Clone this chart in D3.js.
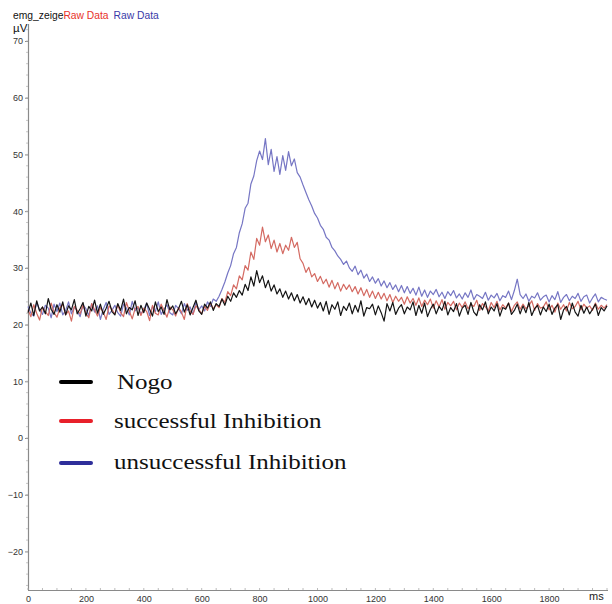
<!DOCTYPE html>
<html><head><meta charset="utf-8">
<script src="https://cdn.jsdelivr.net/npm/d3@7"></script>
<style>body{margin:0;background:#fff}svg{display:block}</style>
</head><body>
<svg id="c" width="612" height="604"></svg>
<script>
// time axis: 0..2000 ms in 10 ms steps
const timesMs = d3.range(0, 2001, 10);
const xTicks = [0,200,400,600,800,1000,1200,1400,1600,1800];
const yTicks = [-20,-10,0,10,20,30,40,50,60,70];
const seriesNames = ["Nogo","successful Inhibition","unsuccessful Inhibition"];

const nogo = [
22.1,23.8,21.6,24.2,22.4,23.1,21.9,24.6,22.7,21.8,
23.5,22.2,24.0,21.7,23.3,22.6,24.4,21.9,22.8,23.9,
21.5,23.2,22.4,24.3,22.0,23.6,21.8,22.9,24.1,22.3,
21.7,23.7,22.5,24.5,21.9,23.0,22.6,24.2,21.6,23.4,
22.1,23.8,22.7,21.5,24.0,22.3,23.1,21.8,24.4,22.6,
23.3,21.9,22.8,24.1,22.2,23.5,21.7,23.0,24.3,22.4,
21.8,23.6,22.9,24.0,22.5,23.7,
23.2,24.5,23.4,25.0,24.1,25.6,24.8,26.0,25.2,27.1,
26.0,28.4,26.8,29.5,27.4,28.6,26.5,27.8,25.9,27.0,
25.4,26.3,24.8,25.9,24.5,25.6,24.2,25.3,23.8,24.9,
23.5,24.6,23.1,24.3,22.9,
23.9,22.4,24.1,21.8,23.5,22.7,24.0,21.6,23.2,22.5,
23.8,21.9,23.4,22.2,24.2,21.5,23.0,22.8,23.6,21.7,
23.3,22.1,20.6,23.7,22.4,23.9,21.8,22.9,23.5,21.9,
23.1,22.6,24.0,21.6,23.4,22.0,23.8,21.4,22.7,23.6,
21.9,23.2,22.5,24.1,21.7,23.0,22.3,23.7,21.5,22.9,
23.4,21.8,23.9,22.2,21.6,23.5,22.6,24.0,21.9,23.1,
22.4,23.7,21.5,23.0,22.7,23.8,21.8,22.5,23.6,21.9,
23.3,22.1,23.9,21.6,22.8,23.4,21.7,23.1,22.3,23.6,
21.8,22.9,23.5,20.9,22.6,23.2,21.7,23.8,22.2,21.5,
23.4,22.0,23.1,21.9,22.7,23.6,21.6,23.0,22.4,23.3
];
const successful = [
22.6,21.4,23.5,22.0,20.8,23.1,22.3,21.6,23.8,22.1,
21.3,22.9,23.6,21.7,22.4,20.6,23.2,22.5,21.9,23.4,
22.0,21.2,23.7,22.6,21.5,23.0,22.2,20.9,23.3,22.7,
21.8,23.5,22.1,21.4,23.9,22.4,21.0,22.8,23.2,21.6,
22.9,22.3,20.7,23.4,22.0,21.7,23.6,22.5,21.3,23.1,
22.6,21.5,23.0,22.2,20.9,23.7,22.4,21.8,23.3,22.7,
21.9,23.2,22.5,23.8,22.8,23.5,
23.0,24.6,23.9,25.8,25.1,27.0,26.3,28.6,27.9,30.4,
29.6,32.8,31.5,35.2,34.0,37.2,34.6,35.8,33.4,34.9,
32.8,34.3,32.5,34.0,33.1,35.4,33.6,34.5,31.6,30.8,
29.2,30.1,28.4,29.0,27.6,
28.5,27.2,28.0,26.6,27.8,26.3,27.4,25.9,27.1,26.2,
27.0,25.8,26.7,25.4,26.5,25.1,26.2,24.8,25.9,24.6,
25.7,24.5,25.5,24.2,25.3,23.9,25.0,24.1,24.8,23.6,
24.9,23.8,24.6,23.4,24.7,23.2,24.3,23.5,24.5,22.9,
24.2,23.1,24.4,22.7,23.9,23.3,24.1,22.6,23.8,23.0,
24.0,22.8,23.6,23.2,24.3,22.5,23.7,23.1,22.4,23.9,
23.0,24.1,22.6,23.5,22.9,23.8,22.3,23.4,24.0,22.7,
23.6,22.8,23.3,24.2,22.5,23.7,22.9,23.1,24.0,22.6,
23.4,22.2,23.8,22.7,23.5,22.4,23.9,22.8,23.2,24.1,
22.6,23.6,22.9,23.3,22.5,23.8,22.7,23.4,22.9,23.5
];
const unsuccessful = [
23.2,22.0,21.5,23.9,22.6,21.8,23.4,22.9,21.2,23.6,
22.3,23.8,21.7,22.5,24.0,21.9,23.1,22.4,21.4,23.5,
22.8,21.6,23.7,22.2,23.3,20.9,22.7,23.9,21.8,22.5,
23.4,22.1,21.5,23.6,22.9,21.7,24.1,22.4,23.0,21.9,
22.6,23.8,21.6,23.2,22.3,24.0,21.8,22.7,23.5,22.1,
21.7,23.4,22.8,21.9,23.7,22.5,23.1,21.8,23.9,22.6,
23.3,22.4,24.0,23.2,24.5,24.1,
25.0,26.2,27.5,29.1,30.4,32.5,33.6,36.2,37.8,40.5,
41.4,44.8,46.2,48.9,50.6,49.1,52.8,48.2,50.9,47.0,
49.6,46.5,49.8,47.2,50.5,48.0,49.2,46.8,46.0,44.6,
43.3,42.0,40.9,39.6,38.8,
37.5,36.8,35.4,34.9,33.6,33.0,32.1,31.5,30.6,31.2,
30.0,29.4,30.3,28.8,29.6,28.2,28.9,27.6,28.4,27.3,
28.1,26.8,27.7,26.5,27.4,26.2,27.0,25.8,26.9,25.6,
26.7,25.5,26.4,25.2,26.6,25.0,26.1,24.8,25.9,25.3,
26.2,24.9,25.7,24.6,25.8,25.1,26.0,24.7,25.4,24.5,
25.6,24.8,26.1,24.4,25.3,25.0,24.6,25.7,24.3,25.2,
24.7,25.5,24.2,25.1,24.8,25.9,24.4,26.0,28.0,25.3,
24.6,25.4,24.1,25.0,24.7,25.6,24.3,24.9,25.2,24.0,
25.1,24.4,25.8,23.9,24.8,25.3,24.2,25.0,24.6,25.5,
24.1,24.9,25.2,23.8,24.7,25.4,24.0,24.8,24.5,24.3
];

const svg = d3.select("#c");
const x = d3.scaleLinear().domain([0,2000]).range([28,607]);
const y = d3.scaleLinear().domain([-26.8,73]).range([590,24]);
const axisColor = "#8a8a8a";
const sans = "Arial, Liberation Sans, sans-serif";

// header
const hdr = svg.append("text").attr("x",13).attr("y",19)
  .attr("font-family",sans).attr("font-size",10.3);
hdr.append("tspan").attr("fill","#111").text("emg_zeige");
hdr.append("tspan").attr("fill","#e8322a").text("Raw Data");
hdr.append("tspan").attr("fill","#3a3aa8").attr("dx",5).text("Raw Data");
svg.append("text").attr("x",13).attr("y",32).attr("font-family",sans)
  .attr("font-size",11.5).attr("fill","#111").text("µV");

// y axis
const yAxis = d3.axisLeft(y).tickValues(yTicks).tickSize(3).tickPadding(2).tickFormat(d3.format("d"));
const gy = svg.append("g").attr("transform","translate(28,0)").call(yAxis);
gy.select(".domain").remove();
gy.selectAll(".tick line").attr("stroke",axisColor);
gy.selectAll(".tick text").attr("font-family",sans).attr("font-size",9).attr("fill","#333");
const yMinor = d3.range(-26,73,2);
svg.append("g").selectAll("line").data(yMinor).join("line")
  .attr("x1",26).attr("x2",28).attr("y1",d=>y(d)).attr("y2",d=>y(d)).attr("stroke","#bbb").attr("stroke-width",0.8);
svg.append("line").attr("x1",28.5).attr("x2",28.5).attr("y1",24).attr("y2",590).attr("stroke",axisColor).attr("stroke-width",1.2);

// x axis
const xAxis = d3.axisBottom(x).tickValues(xTicks).tickSize(0).tickPadding(6).tickFormat(d3.format("d"));
const gx = svg.append("g").attr("transform","translate(0,590)").call(xAxis);
gx.select(".domain").remove();
gx.selectAll(".tick text").attr("font-family",sans).attr("font-size",9).attr("fill","#333");
const xMinor = d3.range(0,2001,50);
svg.append("g").selectAll("line").data(xMinor).join("line")
  .attr("x1",d=>x(d)).attr("x2",d=>x(d)).attr("y1",588).attr("y2",590).attr("stroke","#aaa").attr("stroke-width",0.8);
svg.append("line").attr("x1",28).attr("x2",608).attr("y1",590.5).attr("y2",590.5).attr("stroke",axisColor).attr("stroke-width",1.2);
svg.append("text").attr("x",589).attr("y",600).attr("font-family",sans)
  .attr("font-size",11).attr("fill","#222").text("ms");

// traces
const line = d3.line().x((d,i)=>x(timesMs[i])).y(d=>y(d));
const traces = [
  {data: unsuccessful, color:"#7676c4"},
  {data: successful, color:"#d46a62"},
  {data: nogo, color:"#141414"}
];
svg.append("g").selectAll("path").data(traces).join("path")
  .attr("d",d=>line(d.data)).attr("fill","none").attr("stroke",d=>d.color).attr("stroke-width",1.2).attr("stroke-linejoin","round");

// legend
const legColors = ["#000","#e8202a","#2e2e9a"];
const legY = [382,421,463];
const legTextY = [389,428,469];
const legX = [117,114,114];
const lg = svg.append("g");
lg.selectAll("line").data(seriesNames).join("line")
  .attr("x1",61).attr("x2",91).attr("y1",(d,i)=>legY[i]).attr("y2",(d,i)=>legY[i])
  .attr("stroke",(d,i)=>legColors[i]).attr("stroke-width",4).attr("stroke-linecap","round");
lg.selectAll("text").data(seriesNames).join("text")
  .attr("transform",(d,i)=>`translate(${legX[i]},${legTextY[i]}) scale(1.19,1)`)
  .attr("font-family","Liberation Serif, Times New Roman, serif").attr("font-size",21).attr("fill","#111")
  .text(d=>d);
</script>
</body></html>
